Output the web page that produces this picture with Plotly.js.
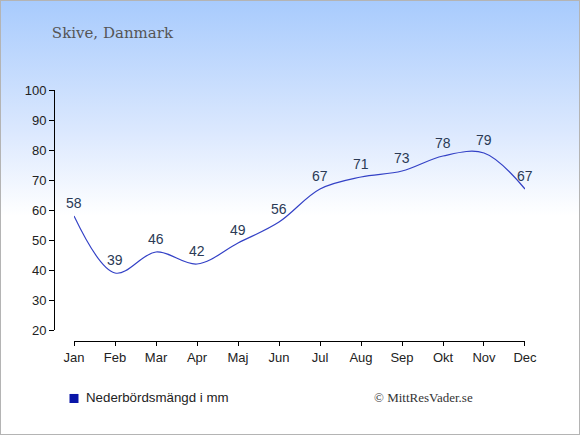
<!DOCTYPE html>
<html>
<head>
<meta charset="utf-8">
<script src="https://cdn.plot.ly/plotly-3.0.1.min.js"></script>
<style>
html,body{margin:0;padding:0;}
#wrap{width:578px;height:433px;border:1px solid #b4b4b4;background:linear-gradient(to bottom,#a8cbfd 0px,#dbe8fe 130px,#ffffff 215px,#ffffff 433px);}
#chart{width:578px;height:433px;}
</style>
</head>
<body>
<div id="wrap"><div id="chart"></div></div>
<script>
var months = ["Jan","Feb","Mar","Apr","Maj","Jun","Jul","Aug","Sep","Okt","Nov","Dec"];
var precipitation = [58,39,46,42,49,56,67,71,73,78,79,67];
var yTicks = [20,30,40,50,60,70,80,90,100];
var chartTitle = "Skive, Danmark";
var seriesName = "Nederbördsmängd i mm";
var credit = "© MittResVader.se";

var line = {
  x: months,
  y: precipitation,
  type: "scatter",
  mode: "lines",
  line: {color: "#3341c6", width: 1.2, shape: "spline", smoothing: 1},
  showlegend: false,
  hoverinfo: "skip",
  cliponaxis: false
};

var valueLabels = months.map(function (m, i) {
  return {
    x: m, y: precipitation[i], xref: "x", yref: "y",
    text: String(precipitation[i]), showarrow: false,
    xanchor: "center", yanchor: "middle", yshift: 13,
    font: {family: "Liberation Sans, Arial, sans-serif", size: 14, color: "#2b3a55"}
  };
});

var layout = {
  width: 578, height: 433,
  paper_bgcolor: "rgba(0,0,0,0)",
  plot_bgcolor: "rgba(0,0,0,0)",
  margin: {l: 53, r: 54, t: 89, b: 93, pad: 0},
  showlegend: false,
  title: {text: chartTitle, x: 0.088, xanchor: "left", y: 0.927, yanchor: "middle",
          font: {family: "DejaVu Serif, Georgia, serif", size: 15, color: "#555555"}},
  xaxis: {
    type: "category",
    domain: [0.0425, 1],
    range: [0, 11],
    anchor: "free", position: 0,
    showline: true, linecolor: "#000", linewidth: 1,
    ticks: "outside", ticklen: 4, tickcolor: "#000",
    showgrid: false, zeroline: false,
    tickfont: {family: "Liberation Sans, Arial, sans-serif", size: 13, color: "#222"}
  },
  yaxis: {
    domain: [0.0438, 1],
    range: [20, 100],
    tickvals: yTicks,
    anchor: "free", position: 0,
    showline: true, linecolor: "#000", linewidth: 1,
    ticks: "outside", ticklen: 5, tickcolor: "#000",
    showgrid: false, zeroline: false,
    tickfont: {family: "Liberation Sans, Arial, sans-serif", size: 13, color: "#222"}
  },
  shapes: [{
    type: "rect", xref: "paper", yref: "paper",
    x0: 0.0329, x1: 0.052, y0: -0.247, y1: -0.211,
    fillcolor: "#0a16a8", line: {width: 0}
  }],
  annotations: valueLabels.concat([{
    text: seriesName, xref: "paper", yref: "paper",
    x: 0.0637, y: -0.227, xanchor: "left", yanchor: "middle", showarrow: false,
    font: {family: "Liberation Sans, Arial, sans-serif", size: 13.3, color: "#222"}
  }, {
    text: credit, xref: "paper", yref: "paper",
    x: 0.8938, y: -0.227, xanchor: "right", yanchor: "middle", showarrow: false,
    font: {family: "Liberation Serif, Times New Roman, serif", size: 13, color: "#333"}
  }])
};

Plotly.newPlot("chart", [line], layout, {displayModeBar: false, staticPlot: true});
</script>
</body>
</html>
